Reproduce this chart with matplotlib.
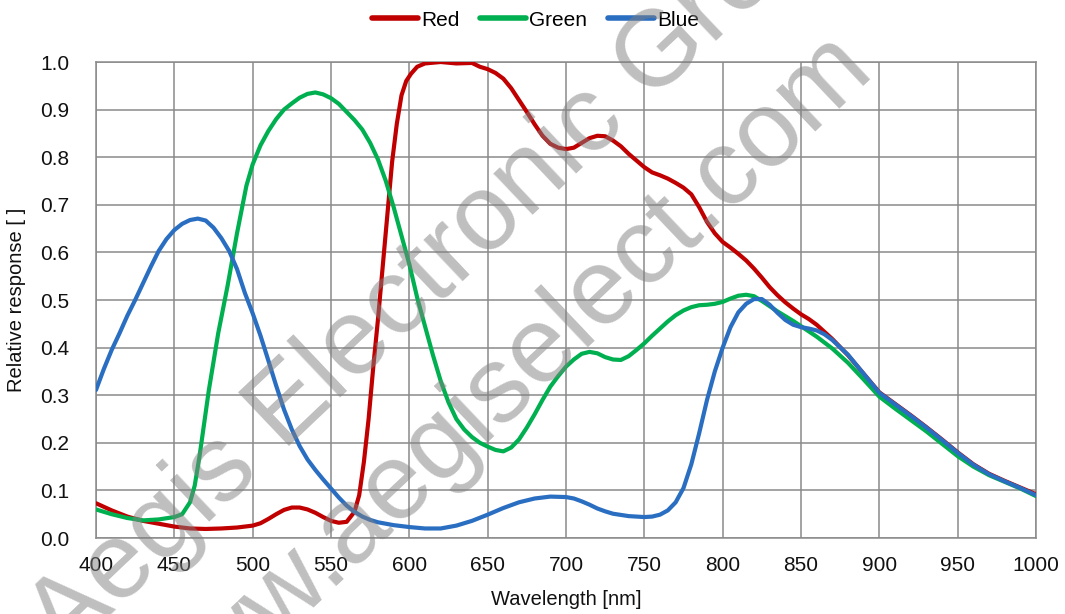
import matplotlib
matplotlib.use("Agg")
import matplotlib.pyplot as plt

# ---------------- data ----------------
red_wl = [400, 410, 420, 430, 440, 450, 460, 470, 480, 490, 500, 505, 510, 515, 520, 525, 530, 535,
          540, 545, 550, 555, 560, 565, 568, 571, 574, 577, 580, 583, 586, 589, 592, 595, 598, 601,
          605, 610, 620, 630, 640, 645, 650, 655, 660, 665, 670, 675, 680, 685, 690, 695, 700, 705,
          710, 715, 720, 725, 730, 735, 740, 745, 750, 755, 760, 765, 770, 775, 780, 785, 790, 795,
          800, 805, 810, 815, 820, 825, 830, 835, 840, 845, 850, 855, 860, 870, 880, 890, 900, 910,
          920, 930, 940, 950, 960, 970, 980, 990, 1000]
red_val = [0.073, 0.058, 0.045, 0.036, 0.030, 0.024, 0.020, 0.019, 0.020, 0.022, 0.026, 0.031, 0.040,
           0.050, 0.059, 0.064, 0.064, 0.060, 0.053, 0.044, 0.036, 0.032, 0.034, 0.055, 0.09, 0.16,
           0.25, 0.36, 0.46, 0.57, 0.68, 0.79, 0.87, 0.93, 0.96, 0.975, 0.99, 0.997, 1.0, 0.997, 0.998,
           0.99, 0.985, 0.977, 0.965, 0.945, 0.92, 0.895, 0.869, 0.845, 0.828, 0.82, 0.817, 0.82, 0.83,
           0.84, 0.845, 0.844, 0.835, 0.823, 0.807, 0.793, 0.779, 0.768, 0.762, 0.755, 0.746, 0.736,
           0.722, 0.695, 0.664, 0.64, 0.622, 0.61, 0.597, 0.583, 0.566, 0.547, 0.527, 0.51, 0.495,
           0.482, 0.47, 0.46, 0.448, 0.418, 0.384, 0.345, 0.306, 0.282, 0.258, 0.233, 0.207, 0.18,
           0.155, 0.135, 0.12, 0.106, 0.092]

green_wl = [400, 410, 420, 430, 440, 450, 455, 460, 463, 466, 469, 472, 475, 478, 481, 484, 487, 490,
            493, 496, 500, 505, 510, 515, 520, 525, 530, 535, 540, 545, 550, 555, 560, 565, 570, 575,
            580, 585, 590, 595, 600, 605, 610, 615, 620, 625, 630, 635, 640, 645, 650, 655, 660, 665,
            670, 675, 680, 685, 690, 695, 700, 705, 710, 715, 720, 725, 730, 735, 740, 745, 750, 755,
            760, 765, 770, 775, 780, 785, 790, 795, 800, 805, 810, 815, 820, 825, 830, 835, 840, 845,
            850, 860, 870, 880, 890, 900, 910, 920, 930, 940, 950, 960, 970, 980, 990, 1000]
green_val = [0.060, 0.050, 0.042, 0.037, 0.039, 0.044, 0.050, 0.075, 0.11, 0.17, 0.24, 0.31, 0.37,
             0.43, 0.48, 0.53, 0.585, 0.64, 0.69, 0.74, 0.785, 0.825, 0.855, 0.88, 0.9, 0.913, 0.925,
             0.933, 0.936, 0.932, 0.924, 0.912, 0.895, 0.878, 0.858, 0.83, 0.795, 0.75, 0.695, 0.635,
             0.575, 0.505, 0.445, 0.385, 0.33, 0.285, 0.25, 0.228, 0.212, 0.2, 0.192, 0.185, 0.182,
             0.19, 0.207, 0.232, 0.26, 0.29, 0.318, 0.34, 0.36, 0.375, 0.387, 0.391, 0.388, 0.38,
             0.375, 0.374, 0.382, 0.395, 0.409, 0.425, 0.44, 0.455, 0.468, 0.478, 0.485, 0.489, 0.49,
             0.492, 0.496, 0.503, 0.509, 0.511, 0.508, 0.498, 0.487, 0.476, 0.466, 0.456, 0.445,
             0.423, 0.398, 0.368, 0.333, 0.297, 0.272, 0.248, 0.224, 0.198, 0.172, 0.15, 0.132,
             0.118, 0.104, 0.088]

blue_wl = [400, 405, 410, 415, 420, 425, 430, 435, 440, 445, 450, 455, 460, 465, 470, 475, 480, 485,
           490, 495, 500, 505, 510, 515, 520, 525, 530, 535, 540, 545, 550, 555, 560, 565, 570, 575,
           580, 590, 600, 610, 620, 630, 640, 650, 660, 670, 680, 690, 700, 705, 710, 715, 720, 725,
           730, 740, 750, 755, 760, 765, 770, 775, 780, 785, 790, 795, 800, 805, 810, 815, 820, 825,
           830, 835, 840, 845, 850, 855, 860, 865, 870, 880, 890, 900, 910, 920, 930, 940, 950, 960,
           970, 980, 990, 1000]
blue_val = [0.311, 0.355, 0.395, 0.43, 0.467, 0.5, 0.535, 0.57, 0.603, 0.628, 0.647, 0.66, 0.668,
            0.671, 0.667, 0.652, 0.63, 0.603, 0.565, 0.515, 0.472, 0.425, 0.373, 0.32, 0.27, 0.228,
            0.193, 0.165, 0.143, 0.123, 0.104, 0.085, 0.068, 0.055, 0.045, 0.038, 0.033, 0.027,
            0.023, 0.02, 0.02, 0.026, 0.036, 0.049, 0.063, 0.075, 0.083, 0.087, 0.086, 0.083, 0.077,
            0.07, 0.062, 0.056, 0.051, 0.046, 0.044, 0.045, 0.049, 0.058, 0.075, 0.105, 0.155, 0.22,
            0.29, 0.35, 0.4, 0.443, 0.474, 0.492, 0.502, 0.502, 0.49, 0.473, 0.458, 0.448, 0.443,
            0.44, 0.436, 0.428, 0.416, 0.385, 0.345, 0.305, 0.281, 0.257, 0.232, 0.206, 0.179,
            0.154, 0.134, 0.119, 0.105, 0.09]

x_ticks = list(range(400, 1001, 50))
y_ticks = [0.0, 0.1, 0.2, 0.3, 0.4, 0.5, 0.6, 0.7, 0.8, 0.9, 1.0]
series_names = ["Red", "Green", "Blue"]
x_label = "Wavelength [nm]"
y_label = "Relative response [ ]"
watermark1 = "Aegis Electronic Group"
watermark2 = "www.aegiselect.com"

# ---------------- style ----------------
plt.rcParams['font.family'] = ['Liberation Sans', 'DejaVu Sans']
colors = ['#C00000', '#00B050', '#2A6EC2']
grid_c = '#8a8a8a'

fig = plt.figure(figsize=(10.65, 6.14), dpi=100)
ax = fig.add_axes([96 / 1065, 1 - 538 / 614, 940 / 1065, 476 / 614])

for wl, val, name, c, z in zip([red_wl, green_wl, blue_wl], [red_val, green_val, blue_val],
                               series_names, colors, [3, 4, 5]):
    ax.plot(wl, val, color=c, lw=3.0, label=name, zorder=z,
            solid_capstyle='round', solid_joinstyle='round')

ax.set_xlim(400, 1000)
ax.set_ylim(0, 1.0)
ax.set_xticks(x_ticks)
ax.set_yticks(y_ticks)
ax.set_yticklabels([f"{v:.1f}" for v in y_ticks])
ax.grid(True, color=grid_c, lw=1.1, zorder=1)
ax.set_axisbelow(True)
for s in ax.spines.values():
    s.set_color(grid_c)
    s.set_linewidth(1.1)
ax.tick_params(axis='both', length=0, labelsize=15, colors='#111111')
ax.tick_params(axis='y', pad=19)
ax.tick_params(axis='x', pad=13)
ax.set_xlabel(x_label, fontsize=14.5, color='#111111', labelpad=11)
ax.set_ylabel(y_label, fontsize=14.5, color='#111111', labelpad=10)

leg = fig.legend(loc='upper center', bbox_to_anchor=(0.503, 1.013), ncol=3, frameon=False,
                 fontsize=15, handlelength=2.2, handletextpad=0.15, columnspacing=1.0)
for h in leg.get_lines():
    h.set_linewidth(4)
    h.set_solid_capstyle('round')

# watermark
fig.text(467 / 1065, 1 - 278 / 614, watermark1, fontsize=78, color='#808080', alpha=0.5,
         rotation=43.5, rotation_mode='anchor', ha='center', va='baseline', zorder=10)
fig.text(520 / 1065, 1 - 412 / 614, watermark2, fontsize=78, color='#808080', alpha=0.5,
         rotation=43.5, rotation_mode='anchor', ha='center', va='baseline', zorder=10)

fig.savefig("out.png", dpi=100)
